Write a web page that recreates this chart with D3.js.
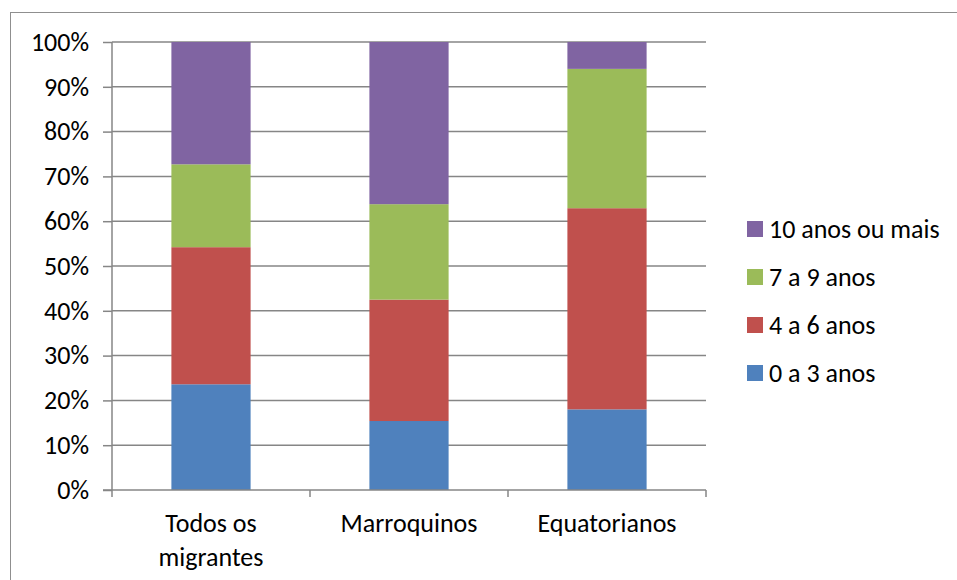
<!DOCTYPE html>
<html><head><meta charset="utf-8">
<script src="https://cdn.jsdelivr.net/npm/d3@7"></script>
<style>body{margin:0;background:#fff}svg{display:block}text{font-family:Carlito,Lato,"Open Sans",sans-serif;fill:#000}</style>
</head><body><svg id="c" width="957" height="580"></svg>
<script>
const categories = [["Todos os","migrantes"],["Marroquinos"],["Equatorianos"]];
const seriesNames = ["0 a 3 anos","4 a 6 anos","7 a 9 anos","10 anos ou mais"];
const s0a3 = [23.6, 15.4, 18.0];
const s4a6 = [30.6, 27.1, 44.9];
const s7a9 = [18.5, 21.3, 31.1];
const s10 = [27.3, 36.2, 6.0];
const colors = ["#4F81BD","#C0504D","#9BBB59","#8064A2"];
const yTicks = [0,10,20,30,40,50,60,70,80,90,100];
const FS = 26;

const svg = d3.select("#c");
const series = [s0a3,s4a6,s7a9,s10];
const rows = categories.map((c,i)=>{const o={i};seriesNames.forEach((n,k)=>o[n]=series[k][i]);return o;});
const stack = d3.stack().keys(seriesNames).offset(d3.stackOffsetExpand)(rows);

const x = d3.scaleBand().domain([0,1,2]).range([112,706]).paddingInner(0.6).paddingOuter(0.3);
const y = d3.scaleLinear().domain([0,1]).range([490,42]);

svg.append("rect").attr("x",10.5).attr("y",12.5).attr("width",1000).attr("height",1000)
  .attr("fill","none").attr("stroke","#8f8f8f").attr("stroke-width",1);

svg.append("g").selectAll("line").data(yTicks.filter(t=>t>0)).join("line")
  .attr("x1",112).attr("x2",706).attr("y1",d=>y(d/100)).attr("y2",d=>y(d/100))
  .attr("stroke","#868686").attr("stroke-width",1.5);

svg.append("g").selectAll("g").data(stack).join("g").attr("fill",(d,i)=>colors[i])
  .selectAll("rect").data(d=>d).join("rect")
  .attr("x",d=>x(d.data.i)).attr("width",x.bandwidth())
  .attr("y",d=>y(d[1])).attr("height",d=>y(d[0])-y(d[1]));

const ya = svg.append("g").attr("transform","translate(112,0)")
  .call(d3.axisLeft(y).tickValues(yTicks.map(t=>t/100)).tickFormat(d=>Math.round(d*100)+"%").tickSize(9).tickPadding(14));
ya.selectAll("line,path").attr("stroke","#868686").attr("stroke-width",1.5);
ya.select(".domain").attr("d","M0,42V490");
ya.selectAll("text").attr("font-size",FS).style("font-family","Carlito,Lato,sans-serif");

const xa = svg.append("g");
xa.append("line").attr("x1",103).attr("x2",706).attr("y1",490).attr("y2",490).attr("stroke","#868686").attr("stroke-width",1.5);
const edges = [0,1,2].map(i=>x(i)-x.step()*x.paddingInner()/2).concat([706]);
edges[0]=112;
xa.selectAll("line.t").data(edges).join("line").attr("class","t")
  .attr("x1",d=>d).attr("x2",d=>d).attr("y1",490).attr("y2",497).attr("stroke","#868686").attr("stroke-width",1.5);
xa.selectAll("text").data(categories).join("text")
  .attr("x",(d,i)=>x(i)+x.bandwidth()/2).attr("y",532).attr("text-anchor","middle").attr("font-size",FS)
  .each(function(d){const t=d3.select(this);d.forEach((l,j)=>t.append("tspan").attr("x",t.attr("x")).attr("dy",j?34:0).text(l));});

const lg = svg.append("g").selectAll("g").data(seriesNames.slice().reverse()).join("g")
  .attr("transform",(d,i)=>`translate(747,${229+i*48})`);
lg.append("rect").attr("y",-8).attr("width",16).attr("height",16).attr("fill",d=>colors[seriesNames.indexOf(d)]);
lg.append("text").attr("x",22).attr("dy","0.35em").attr("font-size",FS).text(d=>d);
</script></body></html>
